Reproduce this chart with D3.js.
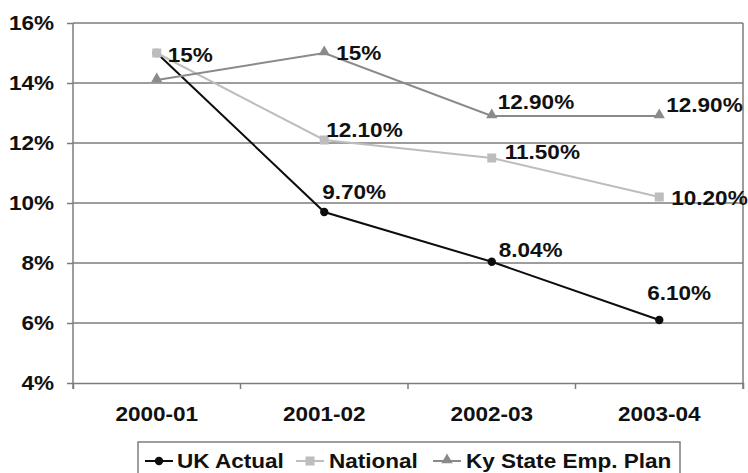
<!DOCTYPE html>
<html>
<head>
<meta charset="utf-8">
<script src="https://cdn.jsdelivr.net/npm/d3@7"></script>
<style>
  html, body { margin: 0; padding: 0; background: #fff; }
  svg text { font-family: "Liberation Sans", Arial, sans-serif; font-weight: bold; fill: #111; }
</style>
</head>
<body>
<div id="chart"></div>
<script>
// chart data
const years = ['2000-01', '2001-02', '2002-03', '2003-04']
const ukActual = [15, 9.7, 8.04, 6.1]
const national = [15, 12.1, 11.5, 10.2]
const kyPlan = [14.1, 15, 12.9, 12.9]
const ukLabels = ['', '9.70%', '8.04%', '6.10%']
const nationalLabels = ['15%', '12.10%', '11.50%', '10.20%']
const kyLabels = ['', '15%', '12.90%', '12.90%']
const yTicks = [4, 6, 8, 10, 12, 14, 16]

const W = 748, H = 473
const plot = { left: 73, right: 743, top: 23, bottom: 383 }
const SX = 1.1 // text in the original is stretched horizontally

const svg = d3.select('#chart').append('svg')
  .attr('width', W).attr('height', H)

const x = d3.scaleBand().domain(years).range([plot.left, plot.right])
const y = d3.scaleLinear().domain([4, 16]).range([plot.bottom, plot.top])
const cx = d => x(d) + x.bandwidth() / 2

function label (g, tx, ty, str, anchor) {
  return g.append('text')
    .attr('transform', 'translate(' + tx + ',' + ty + ') scale(' + SX + ',1)')
    .attr('text-anchor', anchor || 'start')
    .attr('font-size', 20.5)
    .text(str)
}

// gridlines
svg.append('g').selectAll('line')
  .data(yTicks.slice(1)).join('line')
  .attr('x1', plot.left).attr('x2', plot.right)
  .attr('y1', d => y(d)).attr('y2', d => y(d))
  .attr('stroke', '#7d7d7d').attr('stroke-width', 1.5)

// frame: left axis and right edge
const frame = svg.append('g').attr('stroke', '#7d7d7d').attr('stroke-width', 1.5)
frame.append('line').attr('x1', plot.left).attr('x2', plot.left).attr('y1', plot.top).attr('y2', plot.bottom)
frame.append('line').attr('x1', plot.right).attr('x2', plot.right).attr('y1', plot.top).attr('y2', plot.bottom)

const yAxis = svg.append('g')
  .attr('transform', 'translate(' + plot.left + ',0)')
  .call(d3.axisLeft(y).tickValues(yTicks).tickSize(6).tickFormat(''))
yAxis.select('.domain').remove()
yAxis.selectAll('.tick line').attr('stroke', '#7d7d7d').attr('stroke-width', 1.5)
yTicks.forEach(t => label(svg, 54, y(t) + 7, t + '%', 'end'))

const xAxis = svg.append('g')
  .attr('transform', 'translate(0,' + plot.bottom + ')')
  .call(d3.axisBottom(x).tickSize(6).tickFormat(''))
xAxis.select('.domain').attr('stroke', '#7d7d7d').attr('stroke-width', 1.5)
xAxis.selectAll('.tick').remove()
// ticks sit on category boundaries
const bounds = years.map(d => x(d)).concat([plot.right])
svg.append('g').selectAll('line').data(bounds).join('line')
  .attr('x1', d => d).attr('x2', d => d)
  .attr('y1', plot.bottom).attr('y2', plot.bottom + 6)
  .attr('stroke', '#7d7d7d').attr('stroke-width', 1.5)
years.forEach(yr => label(svg, cx(yr), 421, yr, 'middle'))

const series = [
  { name: 'UK Actual', values: ukActual, labels: ukLabels, color: '#0d0d0d', marker: 'circle',
    offs: [[0, 0], [-2, -20], [7, -12], [-12, -27]] },
  { name: 'National', values: national, labels: nationalLabels, color: '#bdbdbd', marker: 'square',
    offs: [[11, 2], [2, -10], [13, -6], [12, 1]] },
  { name: 'Ky State Emp. Plan', values: kyPlan, labels: kyLabels, color: '#8a8a8a', marker: 'triangle',
    offs: [[0, 0], [12, 0], [6, -14], [7, -11]] }
]

const line = d3.line().x((d, i) => cx(years[i])).y(d => y(d))

function drawMarker (g, type, color, px, py) {
  if (type === 'circle') {
    g.append('circle').attr('cx', px).attr('cy', py).attr('r', 4.2).attr('fill', color)
  } else if (type === 'square') {
    g.append('rect').attr('x', px - 4.5).attr('y', py - 4.5).attr('width', 9).attr('height', 9).attr('fill', color)
  } else {
    g.append('path').attr('d', d3.symbol(d3.symbolTriangle, 55)()).attr('transform', 'translate(' + px + ',' + (py - 1) + ')').attr('fill', color)
  }
}

series.forEach(s => {
  const g = svg.append('g')
  g.append('path').datum(s.values).attr('d', line)
    .attr('fill', 'none').attr('stroke', s.color).attr('stroke-width', 2)
  s.values.forEach((v, i) => drawMarker(g, s.marker, s.color, cx(years[i]), y(v)))
})

// data labels on top
series.forEach(s => {
  s.values.forEach((v, i) => {
    if (!s.labels[i]) return
    label(svg, cx(years[i]) + s.offs[i][0], y(v) + s.offs[i][1] + 7, s.labels[i])
  })
})

// legend
const leg = svg.append('g')
leg.append('rect').attr('x', 138).attr('y', 442).attr('width', 542).attr('height', 40)
  .attr('fill', '#fff').attr('stroke', '#7d7d7d').attr('stroke-width', 1.5)
const legItems = [
  { s: series[0], lx: 145, tx: 177 },
  { s: series[1], lx: 296, tx: 329 },
  { s: series[2], lx: 433, tx: 466 }
]
legItems.forEach(it => {
  leg.append('line').attr('x1', it.lx).attr('x2', it.lx + 28).attr('y1', 461).attr('y2', 461)
    .attr('stroke', it.s.color).attr('stroke-width', 2)
  drawMarker(leg, it.s.marker, it.s.color, it.lx + 14, 461)
  label(leg, it.tx, 468, it.s.name)
})
</script>
</body>
</html>
